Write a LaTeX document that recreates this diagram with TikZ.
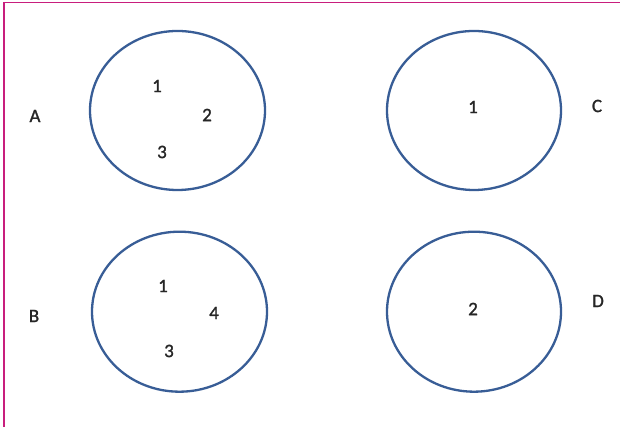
\documentclass[tikz,border=0pt]{standalone}
\usepackage{fontspec}
\setmainfont{Carlito}
\newfontfamily\lblfont[FakeBold=1.2]{Carlito}
\definecolor{ringblue}{RGB}{56,93,150}
\definecolor{framemag}{RGB}{200,30,125}
\begin{document}
\begin{tikzpicture}[x=1pt,y=1pt,
  ring/.style={draw=ringblue,line width=2.3pt},
  lbl/.style={font=\lblfont\fontsize{19}{22}\selectfont,inner sep=0pt,text=black!85}]
\useasboundingbox (0,0) rectangle (620,427);
\fill[white] (0,0) rectangle (620,427);
\draw[framemag,line width=1.5pt] (4,0) -- (4,424.5) -- (620,424.5);
% sets
\draw[ring] (177.5,316.5) ellipse [x radius=87.5,y radius=79.5];
\draw[ring] (474,316.5) ellipse [x radius=87,y radius=79.5];
\draw[ring] (179.5,115.3) ellipse [x radius=87.5,y radius=80];
\draw[ring] (474,115.3) ellipse [x radius=87,y radius=80];
% labels
\node[lbl] (la) at (35,311) {A};
\node[lbl] (a1) at (157,341) {1};
\node[lbl] (a2) at (207,312) {2};
\node[lbl] (a3) at (162,275) {3};
\node[lbl] (lc) at (597,321) {C};
\node[lbl] (c1) at (473,320) {1};
\node[lbl] (lb) at (34,111) {B};
\node[lbl] (b1) at (163,141) {1};
\node[lbl] (b4) at (214,114) {4};
\node[lbl] (b3) at (169,76) {3};
\node[lbl] (ld) at (598,126) {D};
\node[lbl] (d2) at (473,118) {2};
\end{tikzpicture}
\end{document}
